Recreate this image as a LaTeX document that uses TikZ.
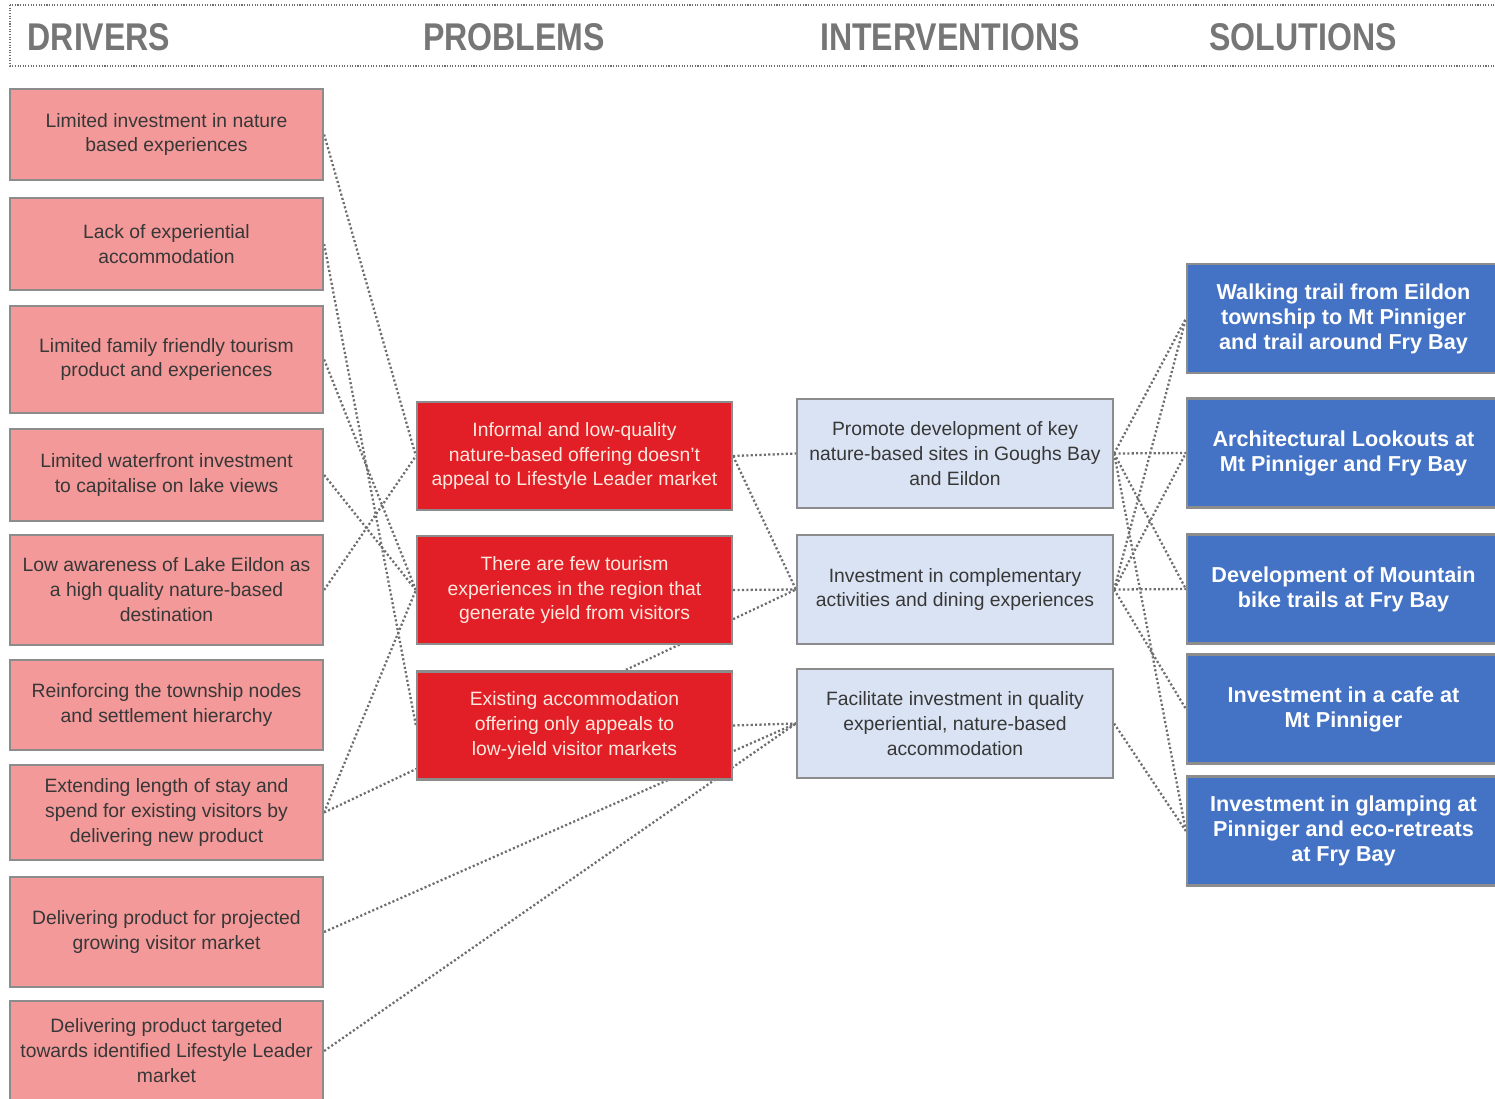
\documentclass[tikz,border=0pt]{standalone}
\usepackage{fontspec}
\setmainfont{Liberation Sans}
\newfontfamily\headfont[FakeStretch=0.83]{Liberation Sans}
\usepackage{xcolor}
\usepackage{tikz}
\usetikzlibrary{positioning,backgrounds}

\definecolor{drvfill}{RGB}{244,153,153}
\definecolor{probfill}{RGB}{226,30,38}
\definecolor{intfill}{RGB}{218,227,243}
\definecolor{solfill}{RGB}{68,114,196}
\definecolor{boxline}{RGB}{140,140,140}
\definecolor{linkgray}{RGB}{110,110,110}
\definecolor{headgray}{RGB}{118,118,118}
\definecolor{drvtext}{RGB}{55,55,55}
\definecolor{probtext}{RGB}{255,232,222}

\begin{document}
\begin{tikzpicture}[x=0.02cm,y=-0.02cm,
  box/.style={draw=boxline,line width=1.3pt,align=center,inner sep=2pt,font=\fontsize{11}{14.2}\selectfont},
  driver/.style={box,fill=drvfill,text=drvtext,minimum width=6.26cm},
  problem/.style={box,fill=probfill,text=probtext,minimum width=6.3cm,minimum height=2.16cm},
  interv/.style={box,fill=intfill,text=drvtext,minimum width=6.32cm,minimum height=2.18cm},
  solution/.style={box,fill=solfill,text=white,minimum width=6.26cm,minimum height=2.18cm,font=\fontsize{12.3}{14.2}\selectfont\bfseries},
  link/.style={draw=linkgray,line width=1.3pt,dash pattern=on 1.2pt off 1.3pt},
  headline/.style={draw=linkgray,line width=0.6pt,dash pattern=on 0.6pt off 0.9pt},
  head/.style={text=headgray,font=\headfont\bfseries\fontsize{22}{26}\selectfont}]
\useasboundingbox (0,0) rectangle (1495,1099);

% headings
\draw[headline] (10,5) rectangle (1520,66);
\node[head] (hdrv) at (99,37) {DRIVERS};
\node[head] (hprob) at (514,37) {PROBLEMS};
\node[head] (hint) at (950,37) {INTERVENTIONS};
\node[head] (hsol) at (1303,37) {SOLUTIONS};

% drivers
\node[driver,minimum height=1.82cm] (d1) at (166.5,134.5) {Limited investment in nature\\based experiences};
\node[driver,minimum height=1.84cm] (d2) at (166.5,244) {Lack of experiential\\accommodation};
\node[driver,minimum height=2.14cm] (d3) at (166.5,359.5) {Limited family friendly tourism\\product and experiences};
\node[driver,minimum height=1.84cm] (d4) at (166.5,475) {Limited waterfront investment\\to capitalise on lake views};
\node[driver,minimum height=2.2cm] (d5) at (166.5,590) {Low awareness of Lake Eildon as\\a high quality nature-based\\destination};
\node[driver,minimum height=1.8cm] (d6) at (166.5,705) {Reinforcing the township nodes\\and settlement hierarchy};
\node[driver,minimum height=1.9cm] (d7) at (166.5,812.5) {Extending length of stay and\\spend for existing visitors by\\delivering new product};
\node[driver,minimum height=2.2cm] (d8) at (166.5,932) {Delivering product for projected\\growing visitor market};
\node[driver,minimum height=2.0cm] (d9) at (166.5,1051) {Delivering product targeted\\towards identified Lifestyle Leader\\market};

% problems
\node[problem] (p1) at (574.5,456) {Informal and low-quality\\nature-based offering doesn't\\appeal to Lifestyle Leader market};
\node[problem] (p2) at (574.5,590) {There are few tourism\\experiences in the region that\\generate yield from visitors};
\node[problem] (p3) at (574.5,725.5) {Existing accommodation\\offering only appeals to\\low-yield visitor markets};

% interventions
\node[interv] (i1) at (955,453.5) {Promote development of key\\nature-based sites in Goughs Bay\\and Eildon};
\node[interv] (i2) at (955,589.5) {Investment in complementary\\activities and dining experiences};
\node[interv] (i3) at (955,723.5) {Facilitate investment in quality\\experiential, nature-based\\accommodation};

% solutions
\node[solution] (s1) at (1343.5,318.5) {Walking trail from Eildon\\township to Mt Pinniger\\and trail around Fry Bay};
\node[solution] (s2) at (1343.5,453) {Architectural Lookouts at\\Mt Pinniger and Fry Bay};
\node[solution] (s3) at (1343.5,589) {Development of Mountain\\bike trails at Fry Bay};
\node[solution] (s4) at (1343.5,709) {Investment in a cafe at\\Mt Pinniger};
\node[solution] (s5) at (1343.5,831) {Investment in glamping at\\Pinniger and eco-retreats\\at Fry Bay};

% links, behind the boxes
\begin{pgfonlayer}{background}
\draw[link] (d1.east) -- (p1.west);
\draw[link] (d5.east) -- (p1.west);
\draw[link] (d2.east) -- (p3.west);
\draw[link] (d3.east) -- (p2.west);
\draw[link] (d4.east) -- (p2.west);
\draw[link] (d7.east) -- (p2.west);
\draw[link] (d7.east) -- (i2.west);
\draw[link] (d8.east) -- (i3.west);
\draw[link] (d9.east) -- (i3.west);
\draw[link] (p1.east) -- (i1.west);
\draw[link] (p1.east) -- (i2.west);
\draw[link] (p2.east) -- (i2.west);
\draw[link] (p3.east) -- (i3.west);
\draw[link] (i1.east) -- (s1.west);
\draw[link] (i1.east) -- (s2.west);
\draw[link] (i1.east) -- (s3.west);
\draw[link] (i1.east) -- (s5.west);
\draw[link] (i2.east) -- (s1.west);
\draw[link] (i2.east) -- (s2.west);
\draw[link] (i2.east) -- (s3.west);
\draw[link] (i2.east) -- (s4.west);
\draw[link] (i3.east) -- (s5.west);
\end{pgfonlayer}
\end{tikzpicture}
\end{document}
